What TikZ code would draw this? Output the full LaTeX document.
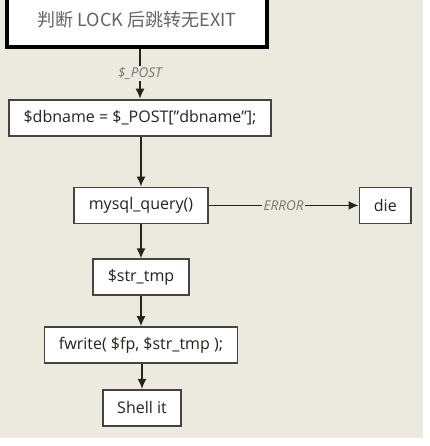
\documentclass[tikz,border=0pt]{standalone}
\usepackage{fontspec}
\setmainfont{Open Sans}
\newfontfamily\cjkfont{Noto Sans CJK SC}
\usepackage{tikz}
\usetikzlibrary{arrows,arrows.meta,positioning}
\definecolor{paper}{RGB}{236, 233, 222}
\definecolor{ink}{RGB}{38, 34, 30}
\definecolor{boxgray}{RGB}{70, 68, 64}
\definecolor{tagray}{RGB}{118, 116, 112}
\definecolor{headgray}{RGB}{100, 100, 100}
\tikzstyle{entry} = [rectangle, draw=black, line width=3.5pt, fill=white, text=headgray, font=\cjkfont\fontsize{18}{20}\selectfont, minimum width=260pt, minimum height=54pt]
\tikzstyle{block} = [rectangle, draw=boxgray, line width=1.8pt, fill=white, text=ink, font=\fontsize{16}{18}\selectfont, inner xsep=14.5pt, minimum height=36pt]
\tikzstyle{flow}  = [draw=ink, line width=1.5pt, >={Latex[length=10pt, width=9pt]}, ->]
\tikzstyle{tag} = [fill=paper, text=tagray, font=\itshape\fontsize{13.5}{15}\selectfont, inner sep=1.5pt]

\begin{document}
\begin{tikzpicture}[x=1pt, y=1pt]

\useasboundingbox (0,0) rectangle (429,-446);
\fill[paper] (0,0) rectangle (423,-438);

% main chain =============================
\node[entry] (lock) at (137,-20) {判断 LOCK 后跳转无EXIT};
\node[block, below=50pt of lock, xshift=3pt] (dbname) {\$dbname = \$\_POST["dbname"];};
\node[block, below=50pt of dbname, xshift=1pt] (query) {mysql\_query()};
\node[block, right=150pt of query] (die) {die};
\node[block, below=34pt of query] (strtmp) {\$str\_tmp};
\node[block, below=30pt of strtmp] (fwrite) {fwrite( \$fp, \$str\_tmp );};
\node[block, below=25pt of fwrite, xshift=1pt] (shell) {Shell it};

% edges
\path[flow] (lock.south -| dbname) -- node[tag] {\$\_POST} (dbname);
\path[flow] (dbname.south -| query) -- (query);
\path[flow] (query) -- node[tag] {ERROR} (die);
\path[flow] (query) -- (strtmp);
\path[flow] (strtmp) -- (fwrite);
\path[flow] (fwrite.south -| shell) -- (shell);

\end{tikzpicture}
\end{document}
